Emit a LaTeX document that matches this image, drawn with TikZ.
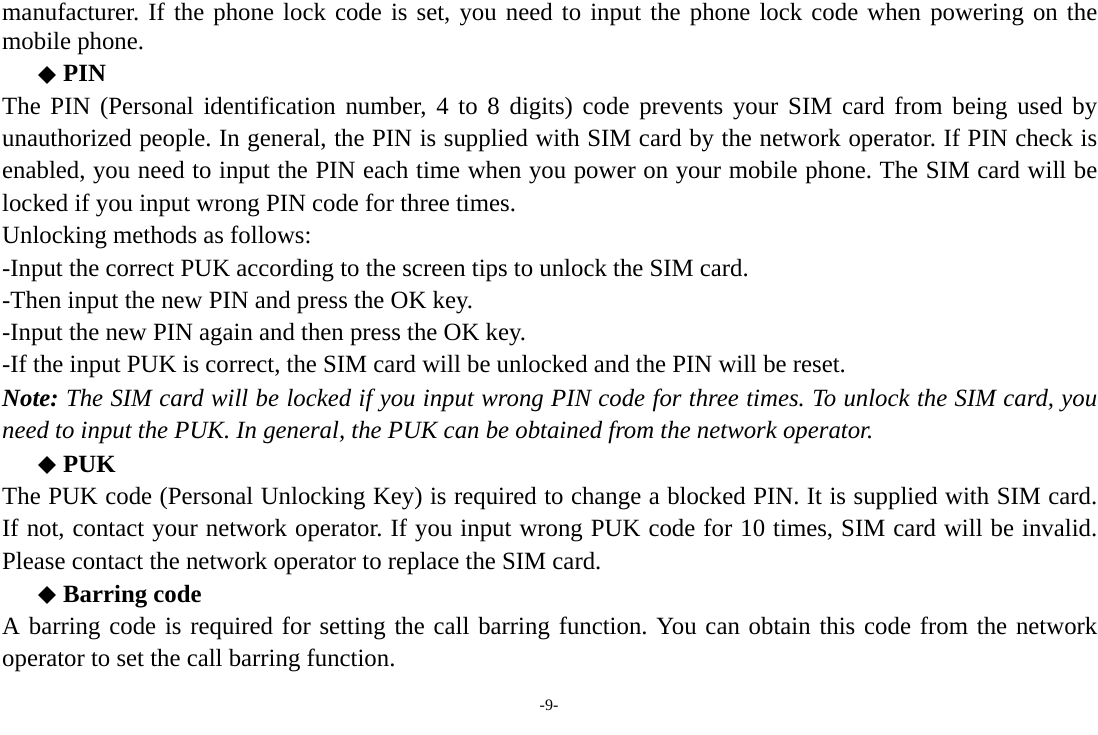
\documentclass[tikz,border=0pt]{standalone}
\usepackage{fontspec}
\setmainfont{Liberation Serif}
\usetikzlibrary{shapes.geometric}
\begin{document}
\frenchspacing
\begin{tikzpicture}[x=1pt,y=-1pt,
  ln/.style={anchor=base west,inner sep=0pt,font=\fontsize{24.8}{30}\selectfont},
  bul/.style={diamond,fill=black,inner sep=0pt,minimum width=18pt,minimum height=18pt}]
\useasboundingbox (0,0) rectangle (1098,735);
\def\J#1{\makebox[1095pt][s]{#1}}
\node[ln] (l1) at (2,21) {\J{manufacturer. If the phone lock code is set, you need to input the phone lock code when powering on the}};
\node[ln] (l2) at (2,50) {mobile phone.};
\node[bul] (b1) at (47,75) {};
\node[ln] (h1) at (63,82) {\textbf{PIN}};
\node[ln] (l3) at (2,115) {\J{The PIN (Personal identification number, 4 to 8 digits) code prevents your SIM card from being used by}};
\node[ln] (l4) at (2,147) {\J{unauthorized people. In general, the PIN is supplied with SIM card by the network operator. If PIN check is}};
\node[ln] (l5) at (2,179) {\J{enabled, you need to input the PIN each time when you power on your mobile phone. The SIM card will be}};
\node[ln] (l6) at (2,212) {locked if you input wrong PIN code for three times.};
\node[ln] (l7) at (2,244) {Unlocking methods as follows:};
\node[ln] (l8) at (2,277) {-Input the correct PUK according to the screen tips to unlock the SIM card.};
\node[ln] (l9) at (2,309) {-Then input the new PIN and press the OK key.};
\node[ln] (l10) at (2,341) {-Input the new PIN again and then press the OK key.};
\node[ln] (l11) at (2,373) {-If the input PUK is correct, the SIM card will be unlocked and the PIN will be reset.};
\node[ln] (l12) at (2,406) {\J{\textbf{\textit{Note:}} \textit{The SIM card will be locked if you input wrong PIN code for three times. To unlock the SIM card, you}}};
\node[ln] (l13) at (2,438) {\textit{need to input the PUK. In general, the PUK can be obtained from the network operator.}};
\node[bul] (b2) at (47,465) {};
\node[ln] (h2) at (63,472) {\textbf{PUK}};
\node[ln] (l14) at (2,504) {\J{The PUK code (Personal Unlocking Key) is required to change a blocked PIN. It is supplied with SIM card.}};
\node[ln] (l15) at (2,536) {\J{If not, contact your network operator. If you input wrong PUK code for 10 times, SIM card will be invalid.}};
\node[ln] (l16) at (2,569) {Please contact the network operator to replace the SIM card.};
\node[bul] (b3) at (47,595) {};
\node[ln] (h3) at (63,602) {\textbf{Barring code}};
\node[ln] (l17) at (2,634) {\J{A barring code is required for setting the call barring function. You can obtain this code from the network}};
\node[ln] (l18) at (2,666) {operator to set the call barring function.};
\node[anchor=base,inner sep=0pt,font=\fontsize{16}{18}\selectfont] (pg) at (549,710) {-9-};
\end{tikzpicture}
\end{document}
